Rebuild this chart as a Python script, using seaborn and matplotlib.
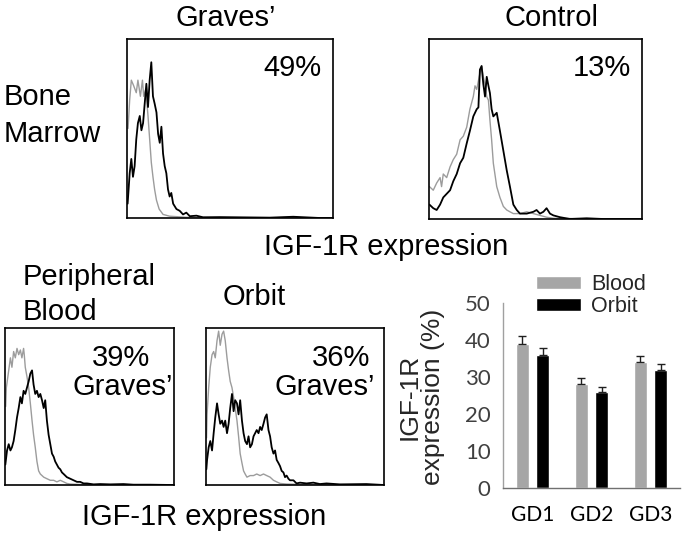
import numpy as np
import pandas as pd
import matplotlib
matplotlib.use("Agg")
import matplotlib.pyplot as plt
import seaborn as sns

sns.set_theme(style="white")
plt.rcParams['font.family'] = ['Liberation Sans', 'DejaVu Sans']

# ---------------- histogram data (channel 0-1000, count as % of panel height)
# Bone marrow, Graves'
bmg_gray_ch = [5, 13, 21, 32, 45, 53, 65, 75, 81, 91, 102, 110, 118, 126, 134, 143, 156, 175, 207, 288, 400, 600, 1000]
bmg_gray_ct = [50, 66, 77, 74, 70, 77, 68, 77, 68, 72, 57, 44, 31, 23, 16, 10, 5, 2, 1, 0.4, 0.2, 0.1, 0]
bmg_black_ch = [3, 13, 21, 29, 37, 45, 53, 62, 70, 78, 86, 94, 102, 110, 118, 126, 134, 143, 151, 159, 167,
                175, 183, 191, 199, 207, 215, 224, 240, 256, 272, 288, 305, 337, 369, 450, 531, 693, 807, 937, 1000]
bmg_black_ct = [8, 25, 33, 23, 29, 44, 53, 57, 49, 53, 64, 75, 62, 77, 87, 68, 64, 59, 47, 42, 51,
                36, 29, 25, 16, 12, 14, 8, 5, 4, 2, 3, 1, 1.3, 0.4, 0.5, 0.4, 0.2, 0.7, 0, 0]

# Bone marrow, Control
bmc_gray_ch = [2, 20, 36, 52, 59, 67, 83, 99, 114, 130, 146, 161, 177, 192, 208, 216, 224, 239, 247, 255, 263,
               271, 279, 286, 294, 302, 318, 333, 349, 365, 380, 396, 427, 459, 490, 521, 552, 584, 700, 1000]
bmc_gray_ct = [18, 16, 20, 23, 18, 25, 23, 29, 33, 36, 44, 46, 51, 61, 68, 74, 72, 81, 85, 79, 75,
               68, 66, 55, 44, 31, 18, 12, 7, 5, 4, 3, 3, 4, 3, 2, 1, 0.4, 0.2, 0]
bmc_black_ch = [2, 20, 36, 52, 67, 83, 99, 114, 130, 146, 161, 177, 192, 208, 224, 232, 239, 247, 255, 263, 271,
                279, 286, 294, 302, 318, 333, 349, 365, 380, 396, 412, 427, 459, 490, 505, 521, 537, 552, 568,
                584, 615, 662, 740, 818, 1000]
bmc_black_ct = [8, 6, 5, 8, 12, 14, 16, 21, 25, 31, 34, 42, 49, 57, 61, 62, 83, 85, 75, 68, 79,
                74, 70, 61, 57, 59, 49, 38, 27, 18, 8, 5, 3, 3, 4, 5, 3, 4, 6, 3,
                2, 1, 0, 0.4, 0, 0]

# Peripheral blood, Graves'
pb_gray_ch = [4, 8, 22, 32, 41, 51, 61, 71, 81, 91, 100, 110, 114, 120, 130, 140, 150, 160, 169, 179, 189,
              199, 209, 229, 248, 268, 288, 307, 327, 347, 366, 386, 426, 485, 563, 1000]
pb_gray_ct = [50, 62, 73, 81, 75, 85, 81, 87, 83, 86, 81, 87, 83, 75, 69, 62, 52, 41, 32, 24, 15,
              9, 7, 5, 4, 3, 3, 2, 3, 2, 1, 0.6, 0.4, 0.2, 0, 0]
pb_black_ch = [2, 12, 22, 32, 41, 51, 61, 71, 81, 91, 100, 110, 120, 130, 140, 150, 160, 169, 179, 189, 199,
               209, 219, 229, 238, 248, 258, 268, 278, 288, 297, 307, 317, 327, 337, 347, 366, 386, 406, 426,
               445, 465, 485, 524, 563, 623, 701, 760, 859, 1000]
pb_black_ct = [13, 22, 26, 22, 24, 28, 35, 43, 49, 56, 52, 60, 58, 62, 66, 71, 73, 64, 58, 60, 56,
               58, 54, 49, 54, 41, 32, 26, 20, 18, 15, 13, 11, 10, 8, 7, 5, 4, 3, 2,
               2, 1, 1, 0.4, 0.6, 0.4, 0.6, 0.2, 0.2, 0]

# Orbit, Graves'
orb_gray_ch = [3, 6, 15, 24, 34, 43, 52, 62, 71, 80, 90, 99, 108, 118, 127, 136, 146, 155, 164, 174, 183,
               192, 202, 211, 220, 230, 248, 267, 285, 304, 323, 341, 360, 379, 397, 416, 453, 528, 1000]
orb_gray_ct = [30, 45, 62, 75, 83, 85, 81, 92, 98, 89, 96, 98, 92, 81, 73, 66, 62, 56, 49, 41, 31,
               20, 14, 9, 7, 5, 6, 6, 7, 6, 7, 6, 5, 3, 2, 1, 0.6, 0.4, 0]
orb_black_ch = [2, 6, 15, 24, 34, 43, 52, 62, 71, 80, 90, 99, 108, 118, 127, 136, 146, 155, 164, 174, 183,
                192, 202, 211, 220, 230, 239, 248, 258, 267, 276, 285, 295, 304, 313, 323, 332, 341, 351, 360,
                369, 379, 388, 397, 407, 416, 425, 435, 444, 453, 463, 472, 491, 509, 528, 565, 603, 640, 677,
                752, 901, 1000]
orb_black_ct = [10, 16, 24, 28, 22, 33, 43, 52, 45, 39, 41, 37, 41, 33, 39, 49, 58, 47, 54, 52, 45,
                54, 41, 33, 28, 26, 31, 24, 26, 31, 33, 35, 33, 37, 35, 39, 43, 45, 35, 31,
                24, 20, 22, 16, 14, 12, 9, 8, 5, 6, 4, 3, 3, 1, 1.5, 1, 1.5, 0.6, 1,
                0.4, 0.6, 0]

# ---------------- bar chart data
groups = ['GD1', 'GD2', 'GD3']
tissues = ['Blood', 'Orbit']
blood_pct = [39, 28, 34]
orbit_pct = [36, 26, 32]
blood_err = [2.1, 1.6, 1.8]
orbit_err = [1.8, 1.4, 1.6]
y_ticks = [0, 10, 20, 30, 40, 50]

W, H = 685, 534
fig = plt.figure(figsize=(W / 100, H / 100), dpi=100)


def rect(l, t, r, b):
    return [l / W, (H - b) / H, (r - l) / W, (b - t) / H]


def ftext(x, y, s, ha='left', size=21, **kw):
    fig.text(x / W, (H - y) / H, s, ha=ha, va='baseline', fontsize=size,
             family=['Liberation Sans', 'DejaVu Sans'], color='black', **kw)


def hist_panel(r, gx, gy, bx, by):
    ax = fig.add_axes(r)
    sns.lineplot(x=gx, y=gy, ax=ax, color='#9c9c9c', lw=1.0, estimator=None)
    sns.lineplot(x=bx, y=by, ax=ax, color='black', lw=1.3, estimator=None)
    ax.set_xlim(0, 1000)
    ax.set_ylim(0, 100)
    ax.set_xticks([])
    ax.set_yticks([])
    ax.set_xlabel('')
    ax.set_ylabel('')
    for s in ax.spines.values():
        s.set_visible(True)
        s.set_color('black')
        s.set_linewidth(1.2)
    return ax


hist_panel(rect(127, 39, 333, 218), bmg_gray_ch, bmg_gray_ct, bmg_black_ch, bmg_black_ct)
hist_panel(rect(429, 39, 642, 219), bmc_gray_ch, bmc_gray_ct, bmc_black_ch, bmc_black_ct)
hist_panel(rect(5, 328, 174, 485), pb_gray_ch, pb_gray_ct, pb_black_ch, pb_black_ct)
hist_panel(rect(206, 328, 384, 485), orb_gray_ch, orb_gray_ct, orb_black_ch, orb_black_ct)

# texts
ftext(226, 26, 'Graves’', ha='center')
ftext(598, 26, 'Control', ha='right')
ftext(4, 105, 'Bone')
ftext(4, 142, 'Marrow')
ftext(321, 76, '49%', ha='right')
ftext(631, 76, '13%', ha='right')
ftext(264, 255, 'IGF-1R expression')
ftext(23, 285, 'Peripheral')
ftext(23, 320, 'Blood')
ftext(223, 305, 'Orbit')
ftext(150, 366, '39%', ha='right')
ftext(173, 395, 'Graves’', ha='right')
ftext(370, 366, '36%', ha='right')
ftext(375, 395, 'Graves’', ha='right')
ftext(82, 525, 'IGF-1R expression')

# bar chart
df = pd.DataFrame({
    'group': groups * 2,
    'tissue': [tissues[0]] * 3 + [tissues[1]] * 3,
    'pct': blood_pct + orbit_pct,
})
axb = fig.add_axes(rect(503, 303, 680, 488))
sns.barplot(data=df, x='group', y='pct', hue='tissue', order=groups, hue_order=tissues,
            palette={'Blood': '#a6a6a6', 'Orbit': '#000000'}, width=0.71, gap=0.38,
            errorbar=None, saturation=1, ax=axb)
for cont, errs in zip(axb.containers, [blood_err, orbit_err]):
    for bar, e in zip(cont, errs):
        axb.errorbar(bar.get_x() + bar.get_width() / 2, bar.get_height(), yerr=[[0], [e]],
                     fmt='none', ecolor='#202020', elinewidth=1.0, capsize=3, capthick=1.0)
axb.set_xlim(-0.5, 2.5)
axb.set_ylim(0, 50)
axb.set_yticks(y_ticks)
axb.set_xlabel('')
axb.set_ylabel('')
for s in ['top', 'right']:
    axb.spines[s].set_visible(False)
axb.spines['left'].set_color('#a0a0a0')
axb.spines['bottom'].set_color('#707070')
axb.spines['left'].set_linewidth(1.0)
axb.spines['bottom'].set_linewidth(1.0)
axb.tick_params(axis='y', length=0, pad=9, labelsize=16, labelcolor='#404040')
axb.tick_params(axis='x', length=0, pad=12, labelsize=15, labelcolor='black')
for lab in axb.get_yticklabels() + axb.get_xticklabels():
    lab.set_family(['Lato', 'DejaVu Sans'])
leg = axb.legend(loc='upper left', bbox_to_anchor=(536 / W, (H - 274) / H),
                 bbox_transform=fig.transFigure, frameon=False, fontsize=15.5,
                 handlelength=2.1, handleheight=0.6, handletextpad=0.45,
                 labelspacing=0.05, borderaxespad=0, borderpad=0)
fig.text(421 / W, (H - 397) / H, 'IGF-1R\nexpression (%)', rotation=90, ha='center', va='center',
         fontsize=19, linespacing=0.95, family=['Liberation Sans', 'DejaVu Sans'])

fig.savefig('out.png', dpi=100)
